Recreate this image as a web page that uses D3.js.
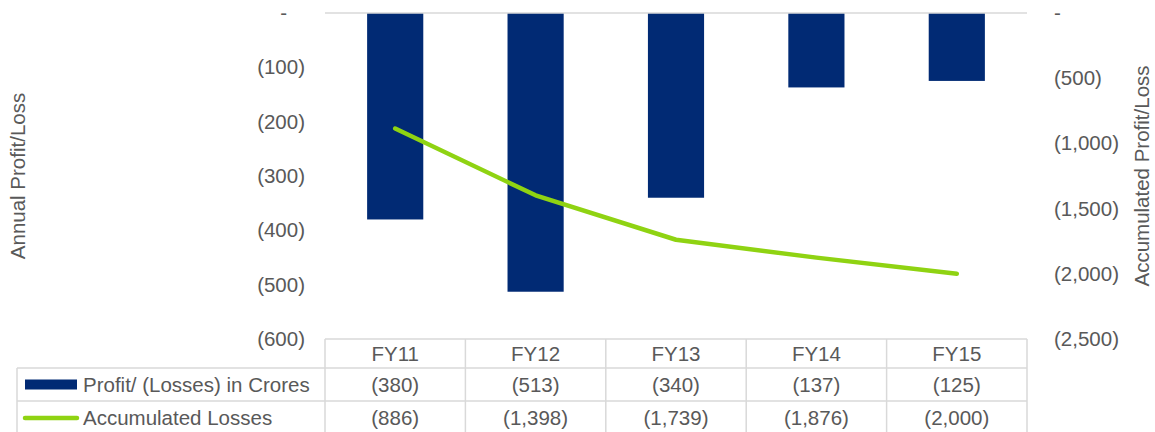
<!DOCTYPE html>
<html>
<head>
<meta charset="utf-8">
<script src="https://cdn.jsdelivr.net/npm/d3@7"></script>
<style>
  html, body { margin: 0; padding: 0; background: #fff; }
  text { font-family: "Liberation Sans", Arial, sans-serif; fill: #595959; }
</style>
</head>
<body>
<svg id="chart" width="1155" height="432"></svg>
<script>
const categories = ["FY11", "FY12", "FY13", "FY14", "FY15"];
const annualPL = [-380, -513, -340, -137, -125];
const accumulated = [-886, -1398, -1739, -1876, -2000];
const leftTicks = [0, -100, -200, -300, -400, -500, -600];
const rightTicks = [0, -500, -1000, -1500, -2000, -2500];
const seriesNames = ["Profit/ (Losses) in Crores", "Accumulated Losses"];

const barColor = "#012a74";
const lineColor = "#8fd312";
const gridColor = "#d9d9d9";
const fs = 20.5;

const svg = d3.select("#chart");
const plot = { left: 325, right: 1027, top: 13, bottom: 339 };

const xCell = d3.scaleBand().domain(categories).range([plot.left, plot.right]).padding(0);
const xBar = d3.scaleBand().domain(categories).range([plot.left, plot.right])
  .paddingInner(0.6).paddingOuter(0.3);
const yL = d3.scaleLinear().domain([0, -600]).range([plot.top, plot.bottom]);
const yR = d3.scaleLinear().domain([0, -2500]).range([plot.top, plot.bottom]);

const fmt = v => v === 0 ? "-" : "(" + d3.format(",")(Math.abs(v)) + ")";

// Bars
svg.append("g").selectAll("rect").data(categories).join("rect")
  .attr("x", d => xBar(d))
  .attr("width", xBar.bandwidth())
  .attr("y", yL(0))
  .attr("height", (d, i) => yL(annualPL[i]) - yL(0))
  .attr("fill", barColor);

// zero line
svg.append("line")
  .attr("x1", plot.left).attr("x2", plot.right)
  .attr("y1", yL(0)).attr("y2", yL(0))
  .attr("stroke", gridColor).attr("stroke-width", 1.5);

// Line
const line = d3.line()
  .x((d, i) => xCell(categories[i]) + xCell.bandwidth() / 2)
  .y(d => yR(d));
svg.append("path").datum(accumulated)
  .attr("d", line)
  .attr("fill", "none")
  .attr("stroke", lineColor)
  .attr("stroke-width", 4.5)
  .attr("stroke-linecap", "round")
  .attr("stroke-linejoin", "round");

// Left axis
const gL = svg.append("g").attr("transform", `translate(${plot.left},0)`)
  .call(d3.axisLeft(yL).tickValues(leftTicks).tickFormat(fmt).tickSize(0).tickPadding(20));
gL.select(".domain").remove();
gL.selectAll("text").attr("font-size", fs).attr("font-family", "Liberation Sans, Arial, sans-serif")
  .attr("fill", "#595959")
  .attr("dx", d => d === 0 ? -18 : 0);

// Right axis
const gR = svg.append("g").attr("transform", `translate(${plot.right},0)`)
  .call(d3.axisRight(yR).tickValues(rightTicks).tickFormat(fmt).tickSize(0).tickPadding(27));
gR.select(".domain").remove();
gR.selectAll("text").attr("font-size", fs).attr("font-family", "Liberation Sans, Arial, sans-serif")
  .attr("fill", "#595959");

// Axis titles
const midY = (plot.top + plot.bottom) / 2;
svg.append("text")
  .attr("transform", `translate(25,${midY}) rotate(-90)`)
  .attr("text-anchor", "middle")
  .attr("font-size", fs)
  .text("Annual Profit/Loss");
svg.append("text")
  .attr("transform", `translate(1149,${midY}) rotate(-90)`)
  .attr("text-anchor", "middle")
  .attr("font-size", fs)
  .text("Accumulated Profit/Loss");

// Data table
const rowTops = [339, 368, 401, 434];
const legendLeft = 17;
const tg = svg.append("g");
const gl = (x1, y1, x2, y2) => tg.append("line")
  .attr("x1", x1).attr("y1", y1).attr("x2", x2).attr("y2", y2)
  .attr("stroke", gridColor).attr("stroke-width", 1.5);

// horizontal lines
gl(plot.left, rowTops[0], plot.right, rowTops[0]);
gl(legendLeft, rowTops[1], plot.right, rowTops[1]);
gl(legendLeft, rowTops[2], plot.right, rowTops[2]);
// vertical lines
categories.forEach(c => gl(xCell(c), rowTops[0], xCell(c), 432));
gl(plot.right, rowTops[0], plot.right, 432);
gl(legendLeft, rowTops[1], legendLeft, 432);

// header
tg.selectAll("text.hdr").data(categories).join("text")
  .attr("class", "hdr")
  .attr("x", d => xCell(d) + xCell.bandwidth() / 2)
  .attr("y", (rowTops[0] + rowTops[1]) / 2)
  .attr("dy", "0.35em")
  .attr("text-anchor", "middle")
  .attr("font-size", fs)
  .text(d => d);

const rowsData = [annualPL, accumulated];
rowsData.forEach((vals, r) => {
  const cy = (rowTops[r + 1] + rowTops[r + 2]) / 2;
  tg.append("g").selectAll("text").data(vals).join("text")
    .attr("x", (d, i) => xCell(categories[i]) + xCell.bandwidth() / 2)
    .attr("y", cy)
    .attr("dy", "0.35em")
    .attr("text-anchor", "middle")
    .attr("font-size", fs)
    .text(d => fmt(d));
  tg.append("text")
    .attr("x", 83)
    .attr("y", cy)
    .attr("dy", "0.35em")
    .attr("font-size", fs)
    .text(seriesNames[r]);
});

// legend keys
tg.append("rect")
  .attr("x", 25).attr("y", 379.5).attr("width", 52).attr("height", 10)
  .attr("fill", barColor);
tg.append("line")
  .attr("x1", 25).attr("x2", 77)
  .attr("y1", 418).attr("y2", 418)
  .attr("stroke", lineColor).attr("stroke-width", 4.5)
  .attr("stroke-linecap", "round");
</script>
</body>
</html>
